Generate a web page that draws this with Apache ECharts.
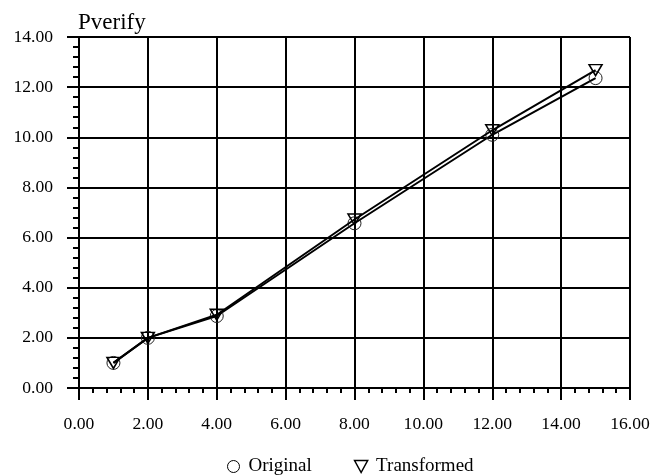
<!DOCTYPE html>
<html>
<head>
<meta charset="utf-8">
<script src="https://cdn.jsdelivr.net/npm/echarts@6/dist/echarts.min.js"></script>
<style>
	html, body { margin: 0; padding: 0; background: #fff; }
	#chart { width: 650px; height: 476px; }
</style>
</head>
<body>
<div id="chart"></div>
<script>
// x values of the measurements
var xValues = [1, 2, 4, 8, 12, 15];
// Original series
var originalValues = [1.0, 2.0, 2.87, 6.57, 10.1, 12.36];
// Transformed series
var transformedValues = [1.0, 2.0, 2.92, 6.72, 10.28, 12.68];

var serif = '"Liberation Serif", "DejaVu Serif", serif';

function pairs(xs, ys) {
	return xs.map(function (x, i) { return [x, ys[i]]; });
}

var myChart = echarts.init(document.getElementById('chart'));
var option = {
	animation: false,
	backgroundColor: '#fff',
	title: {
		text: 'Pverify',
		left: 73,
		top: 6,
		textStyle: {
			fontFamily: serif,
			fontWeight: 'normal',
			fontSize: 23,
			color: '#000'
		}
	},
	legend: {
		top: 452,
		left: 222,
		itemGap: 42,
		itemWidth: 20,
		itemHeight: 12,
		textStyle: {
			fontFamily: serif,
			fontSize: 19,
			color: '#000'
		},
		data: [{
			name: 'Original',
			icon: 'circle',
			itemStyle: { color: '#fff', borderColor: '#000', borderWidth: 1 }
		}, {
			name: 'Transformed',
			icon: 'path://M0,0 L12,0 L6,11 Z',
			itemStyle: { color: '#fff', borderColor: '#000', borderWidth: 1.5 }
		}]
	},
	grid: {
		left: 79,
		right: 20,
		top: 37,
		bottom: 88,
		outerBoundsMode: 'none'
	},
	xAxis: {
		type: 'value',
		min: 0,
		max: 16,
		interval: 2,
		axisLine: { lineStyle: { color: '#000', width: 2 } },
		axisTick: { length: 12, lineStyle: { color: '#000', width: 2 } },
		minorTick: { show: true, splitNumber: 5, length: 5, lineStyle: { color: '#000', width: 2 } },
		splitLine: { lineStyle: { color: '#000', width: 2 } },
		axisLabel: {
			margin: 27,
			fontFamily: serif,
			fontSize: 17.6,
			color: '#000',
			formatter: function (v) { return v.toFixed(2); }
		}
	},
	yAxis: {
		type: 'value',
		min: 0,
		max: 14,
		interval: 2,
		axisLine: { show: true, lineStyle: { color: '#000', width: 2 } },
		axisTick: { show: true, length: 12, lineStyle: { color: '#000', width: 2 } },
		minorTick: { show: true, splitNumber: 5, length: 6, lineStyle: { color: '#000', width: 2 } },
		splitLine: { lineStyle: { color: '#000', width: 2 } },
		axisLabel: {
			margin: 26,
			fontFamily: serif,
			fontSize: 17.6,
			color: '#000',
			formatter: function (v) { return v.toFixed(2); }
		}
	},
	series: [{
		name: 'Original',
		type: 'line',
		data: pairs(xValues, originalValues),
		symbol: 'circle',
		symbolSize: 13,
		itemStyle: { color: 'rgba(255,255,255,0)', borderColor: '#222', borderWidth: 1 },
		lineStyle: { color: '#000', width: 2 },
		z: 3
	}, {
		name: 'Transformed',
		type: 'line',
		data: pairs(xValues, transformedValues),
		symbol: 'triangle',
		symbolRotate: 180,
		symbolSize: [13, 11],
		itemStyle: { color: 'rgba(255,255,255,0)', borderColor: '#000', borderWidth: 1.5 },
		lineStyle: { color: '#000', width: 2 },
		z: 4
	}]
};
myChart.setOption(option);
</script>
</body>
</html>
